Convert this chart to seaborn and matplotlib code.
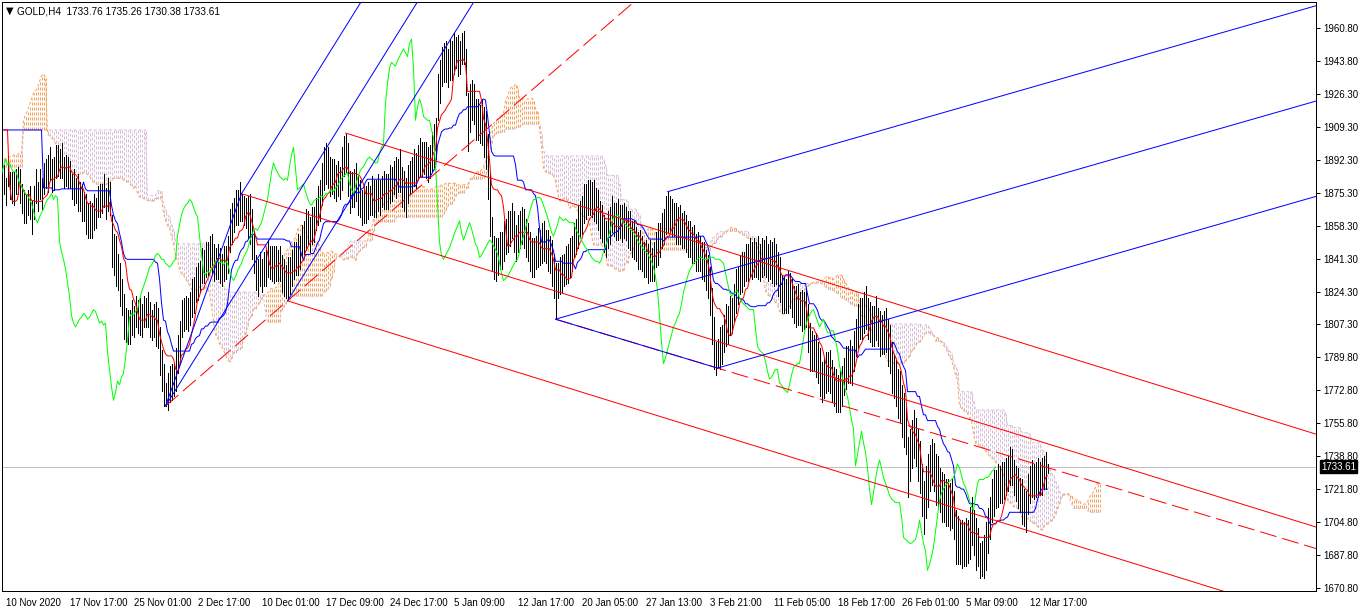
import numpy as np
import pandas as pd
import seaborn as sns
import matplotlib
matplotlib.use("Agg")
import matplotlib.pyplot as plt
import matplotlib.transforms as mtransforms

close = [
    1882, 1878, 1884, 1880, 1876, 1879, 1883, 1881, 1877, 1874,
    1870, 1866, 1872, 1869, 1865, 1871, 1876, 1874, 1879, 1877,
    1881, 1886, 1883, 1891, 1887, 1885, 1889, 1893, 1890, 1891,
    1888, 1886, 1887, 1884, 1880, 1879, 1877, 1875, 1874, 1872,
    1870, 1866, 1862, 1860, 1863, 1865, 1867, 1870, 1872, 1873,
    1875, 1872, 1874, 1873, 1850, 1845, 1841, 1836, 1829, 1822,
    1812, 1808, 1806, 1808, 1810, 1811, 1813, 1812, 1810, 1811,
    1813, 1815, 1814, 1811, 1808, 1809, 1807, 1808, 1793, 1784,
    1775, 1768, 1772, 1778, 1776, 1780, 1782, 1790, 1799, 1811,
    1813, 1812, 1814, 1815, 1820, 1824, 1827, 1830, 1833, 1837,
    1838, 1840, 1843, 1844, 1843, 1841, 1841, 1839, 1838, 1837,
    1838, 1840, 1841, 1853, 1859, 1864, 1867, 1869, 1870, 1872,
    1871, 1868, 1865, 1863, 1853, 1844, 1834, 1833, 1835, 1834,
    1836, 1838, 1840, 1841, 1839, 1840, 1838, 1840, 1839, 1835,
    1832, 1830, 1832, 1835, 1837, 1839, 1842, 1844, 1846, 1850,
    1853, 1856, 1857, 1856, 1858, 1860, 1864, 1868, 1872, 1879,
    1886, 1891, 1888, 1886, 1884, 1883, 1882, 1883, 1882, 1889,
    1895, 1899, 1888, 1877, 1878, 1879, 1880, 1876, 1873, 1870,
    1869, 1871, 1872, 1872, 1873, 1874, 1873, 1875, 1875, 1876,
    1877, 1876, 1878, 1879, 1881, 1883, 1884, 1885, 1886, 1880,
    1877, 1875, 1879, 1883, 1886, 1888, 1889, 1891, 1893, 1894,
    1893, 1892, 1891, 1891, 1896, 1899, 1901, 1922, 1932, 1940,
    1943, 1942, 1941, 1944, 1946, 1948, 1950, 1948, 1946, 1953,
    1955, 1940, 1913, 1920, 1924, 1921, 1915, 1914, 1913, 1913,
    1908, 1904, 1890, 1870, 1850, 1843, 1841, 1843, 1845, 1847,
    1850, 1853, 1856, 1858, 1861, 1855, 1851, 1854, 1857, 1860,
    1857, 1853, 1849, 1847, 1842, 1843, 1845, 1847, 1849, 1851,
    1850, 1848, 1846, 1844, 1839, 1834, 1830, 1831, 1832, 1834,
    1836, 1838, 1840, 1841, 1845, 1850, 1853, 1857, 1861, 1865,
    1869, 1872, 1872, 1873, 1873, 1872, 1869, 1866, 1863, 1859,
    1855, 1853, 1856, 1859, 1863, 1862, 1861, 1862, 1861, 1860,
    1860, 1860, 1857, 1855, 1853, 1851, 1849, 1847, 1846, 1844,
    1842, 1841, 1840, 1840, 1839, 1841, 1845, 1848, 1851, 1855,
    1859, 1863, 1863, 1864, 1863, 1862, 1860, 1859, 1858, 1857,
    1856, 1855, 1853, 1851, 1849, 1848, 1846, 1845, 1844, 1842,
    1840, 1837, 1832, 1825, 1812, 1798, 1787, 1790, 1794, 1798,
    1802, 1806, 1808, 1811, 1813, 1818, 1824, 1828, 1832, 1835,
    1837, 1839, 1840, 1841, 1842, 1842, 1841, 1841, 1841, 1842,
    1842, 1842, 1841, 1841, 1841, 1840, 1839, 1834, 1829, 1824,
    1822, 1823, 1824, 1825, 1821, 1819, 1818, 1817, 1816, 1815,
    1815, 1815, 1805, 1796, 1794, 1793, 1792, 1788, 1783, 1779,
    1780, 1782, 1784, 1784, 1777, 1776, 1774, 1773, 1772, 1776,
    1781, 1785, 1786, 1787, 1787, 1793, 1800, 1806, 1810, 1812,
    1814, 1815, 1812, 1809, 1806, 1808, 1810, 1806, 1803, 1803,
    1804, 1804, 1799, 1794, 1786, 1782, 1777, 1773, 1770, 1764,
    1758, 1753, 1734, 1740, 1746, 1752, 1746, 1741, 1733, 1722,
    1714, 1720, 1727, 1733, 1737, 1733, 1728, 1725, 1722, 1719,
    1717, 1716, 1715, 1715, 1715, 1708, 1697, 1696, 1695, 1694,
    1694, 1695, 1696, 1700, 1706, 1700, 1694, 1690, 1680, 1683,
    1687, 1692, 1700, 1708, 1716, 1720, 1722, 1724, 1725, 1726,
    1727, 1728, 1731, 1735, 1733, 1729, 1725, 1723, 1720, 1716,
    1713, 1711, 1718, 1725, 1727, 1727, 1727, 1728, 1728, 1729,
    1731, 1732, 1733.61,
]

# distance from close up to the bar high
up = [
    8, 5, 9, 6, 10, 7, 5, 8, 11, 6, 7, 9, 5, 10, 6, 8, 12, 7, 9, 6,
    10, 7, 12, 8, 6, 9, 11, 7, 8, 10, 6, 9, 7, 8, 5, 9, 6, 10, 7, 8,
    6, 9, 8, 11, 7, 10, 6, 9, 8, 7, 10, 6, 9, 8, 14, 9, 12, 8, 10, 9,
    11, 8, 9, 7, 10, 6, 9, 8, 11, 7, 9, 6, 10, 8, 7, 9, 12, 8, 13, 10,
    12, 9, 10, 8, 11, 7, 13, 12, 10, 9, 8, 10, 7, 9, 11, 8, 10, 9, 7, 10,
    8, 10, 7, 9, 11, 8, 6, 10, 9, 7, 10, 8, 12, 14, 11, 9, 10, 8, 11, 3,
    3, 5, 9, 12, 14, 11, 9, 8, 10, 7, 9, 8, 11, 7, 9, 8, 10, 6, 9, 8,
    9, 8, 10, 7, 9, 11, 8, 10, 7, 9, 8, 11, 9, 7, 10, 8, 9, 11, 10, 12,
    13, 10, 11, 8, 9, 10, 8, 9, 7, 10, 10, 7, 13, 10, 8, 9, 11, 8, 9, 7,
    10, 8, 9, 7, 11, 8, 9, 10, 7, 8, 10, 9, 7, 11, 8, 9, 10, 8, 12, 9,
    10, 8, 11, 9, 8, 10, 7, 9, 11, 8, 9, 10, 8, 9, 11, 12, 13, 15, 12, 11,
    10, 12, 9, 11, 8, 10, 6, 9, 8, 5, 4, 10, 14, 12, 10, 11, 9, 10, 8, 11,
    12, 14, 16, 15, 13, 10, 11, 9, 10, 8, 11, 9, 10, 8, 9, 11, 8, 10, 9, 8,
    10, 9, 11, 8, 10, 9, 8, 10, 7, 9, 11, 8, 10, 9, 12, 10, 9, 8, 10, 9,
    8, 10, 9, 11, 8, 10, 9, 12, 10, 9, 11, 8, 10, 9, 8, 10, 9, 11, 8, 10,
    9, 8, 10, 9, 11, 8, 9, 10, 8, 9, 10, 8, 9, 11, 8, 10, 9, 8, 10, 9,
    8, 10, 9, 11, 8, 9, 10, 12, 9, 10, 8, 11, 13, 10, 9, 8, 10, 9, 11, 8,
    10, 9, 8, 10, 9, 11, 8, 10, 9, 8, 10, 9, 11, 12, 14, 13, 11, 10, 12, 9,
    10, 12, 9, 11, 8, 10, 12, 9, 11, 10, 8, 10, 9, 11, 8, 10, 9, 12, 8, 10,
    9, 11, 8, 10, 9, 12, 10, 11, 13, 9, 10, 8, 11, 9, 10, 8, 9, 11, 8, 10,
    9, 11, 13, 12, 10, 9, 11, 10, 12, 9, 10, 11, 9, 10, 12, 9, 10, 8, 11, 10,
    9, 11, 10, 12, 9, 11, 10, 12, 11, 9, 10, 12, 9, 10, 11, 9, 12, 10, 11, 9,
    10, 12, 11, 13, 12, 10, 12, 11, 13, 12, 14, 12, 15, 13, 12, 11, 13, 12, 14, 13,
    12, 14, 13, 12, 11, 13, 12, 14, 11, 12, 13, 11, 12, 10, 12, 13, 14, 12, 11, 12,
    11, 12, 10, 13, 12, 11, 13, 12, 14, 12, 11, 13, 12, 10, 11, 12, 10, 11, 9, 10,
    9, 10, 8, 9, 10, 8, 9, 10, 8, 11, 9, 10, 12, 9, 10, 8, 9, 10, 8, 9,
    8, 9, 1.65,
]

# distance from close down to the bar low
dn = [
    7, 9, 5, 8, 6, 10, 8, 6, 7, 9, 10, 6, 8, 7, 11, 9, 6, 8, 7, 10,
    6, 8, 7, 9, 11, 8, 6, 9, 7, 8, 10, 7, 9, 6, 8, 10, 7, 9, 8, 11,
    9, 12, 10, 8, 11, 9, 10, 7, 9, 8, 7, 10, 8, 9, 13, 12, 14, 11, 12, 10,
    12, 10, 9, 11, 8, 10, 7, 9, 8, 10, 7, 9, 8, 10, 9, 8, 11, 13, 12, 11,
    10, 3, 9, 11, 8, 10, 9, 8, 11, 10, 9, 7, 10, 8, 9, 11, 8, 10, 9, 8,
    9, 8, 10, 7, 9, 11, 10, 8, 9, 10, 8, 9, 7, 8, 10, 9, 8, 10, 9, 11,
    12, 11, 13, 14, 12, 10, 9, 11, 8, 10, 9, 11, 8, 10, 9, 11, 8, 10, 9, 11,
    10, 9, 12, 12, 10, 8, 9, 11, 10, 8, 9, 10, 8, 11, 9, 10, 8, 9, 11, 10,
    9, 11, 10, 12, 9, 10, 11, 9, 10, 12, 11, 13, 14, 12, 10, 11, 9, 12, 10, 11,
    9, 11, 10, 8, 9, 11, 10, 9, 11, 8, 10, 9, 11, 9, 10, 8, 11, 9, 10, 12,
    11, 12, 9, 8, 10, 9, 11, 8, 9, 10, 8, 9, 10, 8, 9, 10, 8, 9, 10, 9,
    10, 9, 11, 10, 12, 11, 10, 12, 9, 11, 13, 14, 16, 13, 11, 10, 12, 11, 12, 13,
    14, 16, 18, 17, 15, 12, 11, 10, 9, 11, 10, 9, 11, 10, 9, 10, 11, 9, 10, 11,
    10, 11, 9, 12, 10, 11, 9, 10, 11, 12, 10, 9, 11, 10, 12, 13, 20, 10, 9, 10,
    9, 10, 11, 9, 10, 8, 9, 10, 9, 11, 9, 10, 8, 9, 10, 11, 9, 10, 11, 9,
    10, 11, 9, 10, 8, 9, 10, 11, 9, 10, 8, 9, 10, 9, 11, 10, 9, 11, 10, 9,
    10, 9, 11, 10, 9, 11, 8, 10, 9, 8, 10, 9, 8, 9, 10, 9, 11, 10, 9, 10,
    9, 10, 11, 9, 10, 9, 11, 10, 9, 11, 10, 12, 11, 13, 15, 14, 6, 5, 10, 11,
    9, 10, 11, 9, 10, 9, 11, 10, 9, 11, 10, 9, 10, 9, 11, 10, 9, 10, 11, 10,
    9, 10, 11, 10, 12, 13, 11, 12, 10, 11, 9, 10, 11, 9, 10, 11, 12, 10, 9, 11,
    10, 9, 12, 13, 11, 10, 12, 11, 13, 12, 11, 10, 11, 12, 10, 11, 12, 11, 10, 11,
    10, 11, 9, 10, 11, 10, 9, 11, 10, 12, 11, 10, 12, 11, 10, 12, 11, 10, 12, 11,
    12, 11, 13, 12, 14, 13, 12, 14, 13, 15, 14, 13, 16, 14, 13, 14, 12, 15, 13, 14,
    15, 13, 14, 12, 13, 12, 14, 13, 12, 14, 12, 13, 12, 14, 13, 12, 14, 13, 12, 13,
    12, 13, 12, 14, 13, 12, 14, 8, 4, 6, 11, 12, 11, 12, 11, 12, 10, 11, 10, 11,
    10, 9, 10, 11, 9, 10, 9, 11, 10, 12, 10, 11, 9, 10, 9, 10, 9, 10, 9, 10,
    9, 10, 3.23,
]

# indicator values on the left edge, which come from bars before the window
span_a_head = [
    1893, 1893, 1894, 1894, 1894, 1895, 1895, 1895, 1896, 1896,
    1913, 1916, 1918, 1921, 1924, 1927, 1928, 1930, 1933, 1936,
    1937, 1935, 1906, 1905, 1904, 1903, 1901, 1898, 1892, 1889,
    1888, 1888, 1887, 1887, 1886, 1886, 1886, 1885, 1885, 1885,
    1886, 1886, 1885, 1884, 1882, 1881, 1880, 1880, 1880, 1880,
    1880,
]
span_b_head = [1889] * 10 + [1908] * 62 + [1874] * 5
kijun_head = [1908] * 20 + [1878] * 5
tenkan_head = [1908, 1908, 1908, 1880, 1872, 1871, 1871, 1872]

time_ticks = [0, 32, 64, 96, 128, 160, 192, 224, 256, 288, 320, 352, 384, 416, 448, 480, 512]
time_labels = ["10 Nov 2020", "17 Nov 17:00", "25 Nov 01:00", "2 Dec 17:00", "10 Dec 01:00",
               "17 Dec 09:00", "24 Dec 17:00", "5 Jan 09:00", "12 Jan 17:00", "20 Jan 05:00",
               "27 Jan 13:00", "3 Feb 21:00", "11 Feb 05:00", "18 Feb 17:00", "26 Feb 01:00",
               "5 Mar 09:00", "12 Mar 17:00"]
price_labels = ["1670.80", "1687.80", "1704.80", "1721.80", "1738.80", "1755.80", "1772.80",
                "1789.80", "1807.30", "1824.30", "1841.30", "1858.30", "1875.30", "1892.30",
                "1909.30", "1926.30", "1943.80", "1960.80"]
last_price = 1733.61
header = "GOLD,H4  1733.76 1735.26 1730.38 1733.61"

# drawn objects: (bar, price) anchor points
blue_fork_left = [(81, 1765.0), (119, 1875.0), (142, 1819.5)]
red_fork = [(119, 1875.0), (171, 1906.4), (142, 1819.5)]
blue_fork_right = [(276, 1810.0), (332, 1876.0), (357, 1784.7)]
blue_segments = [[(81, 1765.0), (119, 1875.0)], [(276, 1810.0), (357, 1784.7)]]
red_dashed_rays = [[(81, 1765.0), (142, 1819.5)], [(276, 1810.0), (357, 1784.7)]]

# ichimoku from the bars
bars = pd.DataFrame({"bar": np.arange(len(close)), "close": close})
bars["high"] = bars["close"] + np.array(up)
bars["low"] = bars["close"] - np.array(dn)


def midpoint(w):
    return (bars["high"].rolling(w, min_periods=1).max() + bars["low"].rolling(w, min_periods=1).min()) / 2


bars["tenkan"] = midpoint(9)
bars["kijun"] = midpoint(26)
src_a = ((bars["tenkan"] + bars["kijun"]) / 2).to_numpy()
src_b = midpoint(52).to_numpy()
kumo_a = np.concatenate([span_a_head, src_a[len(span_a_head) - 26:]])
kumo_b = np.concatenate([span_b_head, src_b[len(span_b_head) - 26:]])
cloud = pd.DataFrame({"bar": np.arange(len(kumo_a)), "a": kumo_a, "b": kumo_b})
bars.loc[:len(kijun_head) - 1, "kijun"] = kijun_head
bars.loc[:len(tenkan_head) - 1, "tenkan"] = tenkan_head
chikou = pd.DataFrame({"bar": bars["bar"] - 26, "close": bars["close"]})

sns.set_style("white")
plt.rcParams["font.family"] = ["Liberation Sans", "DejaVu Sans"]
LW = 0.72  # one pixel

fig = plt.figure(figsize=(13.62, 6.12), dpi=100)
ax = fig.add_axes([2 / 1362, 21 / 612, 1314 / 1362, 589 / 612])

# kumo: dotted histogram between the spans
top = cloud[["a", "b"]].max(axis=1)
bot = cloud[["a", "b"]].min(axis=1)
kumo_col = np.where(cloud["a"] >= cloud["b"], "#F4A460", "#D8BFD8")
ax.vlines(cloud["bar"], bot, top, colors=kumo_col, linewidth=LW, linestyles=(0, (3, 2)), zorder=1)
ax.plot(cloud["bar"], cloud["b"], color="#D8BFD8", lw=LW, ls=(0, (3, 2)), zorder=1)
ax.plot(cloud["bar"], cloud["a"], color="#F4A460", lw=LW, ls=(0, (3, 2)), zorder=1)

ax.axhline(last_price, color="#C0C0C0", lw=LW, zorder=1.5)

# price bars
ax.vlines(bars["bar"], bars["low"], bars["high"], colors="black", linewidth=LW,
          antialiased=False, zorder=2)

sns.lineplot(data=bars, x="bar", y="kijun", color="#0000FF", lw=LW, ax=ax, zorder=3)
sns.lineplot(data=bars, x="bar", y="tenkan", color="#FF0000", lw=LW, ax=ax, zorder=3)
sns.lineplot(data=chikou, x="bar", y="close", color="#00FF00", lw=LW, ax=ax, zorder=3)

XE = 720


def draw_fork(pts, color):
    (x0, y0), (x1, y1), (x2, y2) = pts
    slope = ((y1 + y2) / 2 - y0) / ((x1 + x2) / 2 - x0)
    for xs, ys in pts:
        ax.plot([xs, XE], [ys, ys + slope * (XE - xs)], color=color, lw=LW, zorder=4)


for seg in red_dashed_rays:
    (xa, ya), (xb, yb) = seg
    s = (yb - ya) / (xb - xa)
    ax.plot([xa, XE], [ya, ya + s * (XE - xa)], color="#FF0000", lw=LW, ls=(0, (17, 6)), zorder=4)
draw_fork(red_fork, "#FF0000")
draw_fork(blue_fork_left, "#0000FF")
draw_fork(blue_fork_right, "#0000FF")
for seg in blue_segments:
    (xa, ya), (xb, yb) = seg
    ax.plot([xa, xb], [ya, yb], color="#0000FF", lw=LW, zorder=4)

ax.set_xlim(-0.75, 656.25)
ax.set_ylim(1669.25, 1974.26)
ax.set_xlabel("")
ax.set_ylabel("")

ax.yaxis.tick_right()
ax.set_yticks(np.linspace(1670.8, 1960.8, 18))
ax.set_yticklabels(price_labels)
ax.tick_params(axis="y", direction="out", length=3, width=LW, pad=2, labelsize=7, colors="black")
ax.set_xticks(time_ticks)
ax.set_xticklabels(time_labels)
ax.tick_params(axis="x", direction="out", length=4, width=LW, pad=1, labelsize=7, colors="black")
shift = mtransforms.ScaledTranslation(2 / 100, 0, fig.dpi_scale_trans)
for lab in ax.get_xticklabels():
    lab.set_horizontalalignment("left")
    lab.set_transform(lab.get_transform() + shift)

for sp in ax.spines.values():
    sp.set_visible(True)
    sp.set_color("black")
    sp.set_linewidth(LW)

ax.annotate(f"{last_price:.2f}", xy=(1, last_price), xycoords=("axes fraction", "data"),
            xytext=(5, 0), textcoords="offset pixels", ha="left", va="center",
            color="white", fontsize=7, annotation_clip=False,
            bbox=dict(boxstyle="square,pad=0.15", fc="black", ec="black"))

fig.text(6 / 1362, 1 - 11 / 612, "\u25bc", fontsize=7, va="center", color="black",
         family=["DejaVu Sans"])
fig.text(17 / 1362, 1 - 11 / 612, header, fontsize=7.2, va="center", color="black")

fig.savefig("out.png", dpi=100, facecolor="white")
